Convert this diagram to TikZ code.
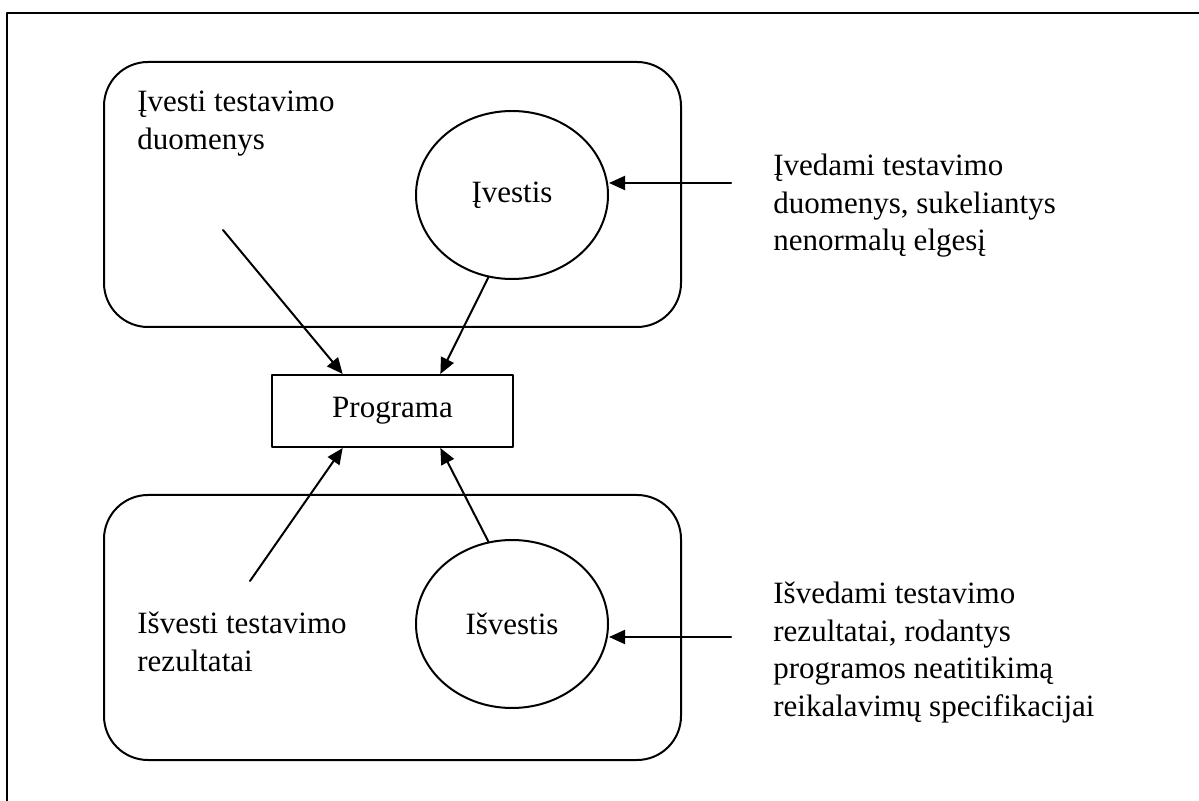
\documentclass[tikz,border=0pt]{standalone}
\usepackage{fontspec}
\setmainfont{Liberation Serif}
\usetikzlibrary{shapes.geometric,arrows.meta,calc}

\begin{document}
\begin{tikzpicture}[x=0.5pt,y=-0.5pt,line cap=round,line join=round,
    font=\fontsize{15.5}{18.75}\selectfont]
  \tikzset{
    fieldbox/.style={draw,line width=1pt,rounded corners=22pt},
    ioellipse/.style={draw,ellipse,line width=1pt,inner sep=0pt,
      minimum width=96pt,minimum height=84pt},
    progbox/.style={draw,line width=1pt,inner sep=0pt,
      minimum width=120.5pt,minimum height=36pt},
    flow/.style={-{Triangle[length=8pt,width=7pt]},line width=1pt},
    note/.style={align=left,anchor=north west,inner sep=0pt}
  }
  \useasboundingbox (0,0) rectangle (1199,801);
  \draw[line width=1.3pt] (1199,13) -- (7,13) -- (7,801);

  % input side
  \draw[fieldbox] (104,62) rectangle (681,327);
  \node[note] (inText) at (137,91) {Įvesti testavimo\\duomenys};
  \node[ioellipse] (in) at (512,195) {Įvestis};
  \node[note] (inNote) at (773,154) {Įvedami testavimo\\duomenys, sukeliantys\\nenormalų elgesį};

  \node[progbox] (prog) at (392.5,411) {Programa};

  % output side
  \draw[fieldbox] (104,495) rectangle (681,760);
  \node[note] (outText) at (137,612) {Išvesti testavimo\\rezultatai};
  \node[ioellipse] (out) at (512,624) {Išvestis};
  \node[note] (outNote) at (773,582) {Išvedami testavimo\\rezultatai, rodantys\\programos neatitikimą\\reikalavimų specifikacijai};

  \coordinate (inStart) at (223,230);
  \coordinate (outStart) at (250,581);
  \coordinate (inSrc) at (731,183);
  \coordinate (outSrc) at (731,637);

  \draw[flow] (inStart) -- ($(prog.north west)!0.295!(prog.north east)$);
  \draw[flow] (in.254) -- ($(prog.north west)!0.697!(prog.north east)$);
  \draw[flow] (outStart) -- ($(prog.south west)!0.295!(prog.south east)$);
  \draw[flow] (out.106) -- ($(prog.south west)!0.697!(prog.south east)$);
  \draw[flow] (inSrc) -- (inSrc -| in.east);
  \draw[flow] (outSrc) -- (outSrc -| out.east);
\end{tikzpicture}
\end{document}
